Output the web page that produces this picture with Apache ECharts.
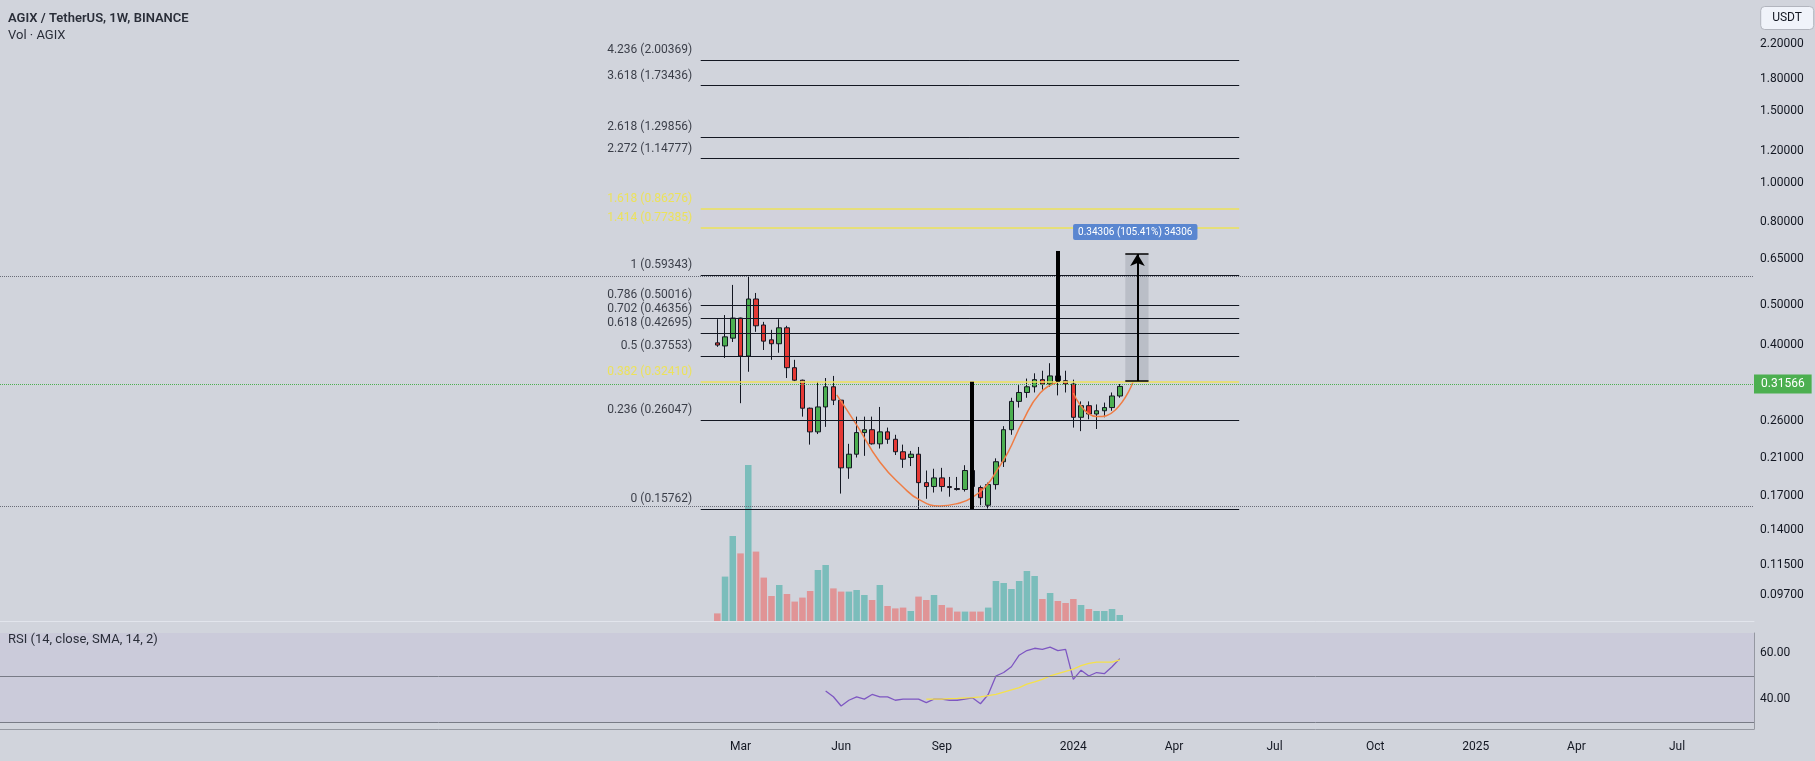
<!DOCTYPE html>
<html><head><meta charset="utf-8">
<script src="https://cdn.jsdelivr.net/npm/echarts@6/dist/echarts.min.js"></script>
<style>html,body{margin:0;padding:0;background:#d1d4dc;}#c{width:1815px;height:761px;}</style>
</head><body><div id="c"></div>
<script>
// ---------- data ----------
const dates = ['2023-02-13','2023-02-20','2023-02-27','2023-03-06','2023-03-13','2023-03-20','2023-03-27','2023-04-03','2023-04-10','2023-04-17','2023-04-24','2023-05-01','2023-05-08','2023-05-15','2023-05-22','2023-05-29','2023-06-05','2023-06-12','2023-06-19','2023-06-26','2023-07-03','2023-07-10','2023-07-17','2023-07-24','2023-07-31','2023-08-07','2023-08-14','2023-08-21','2023-08-28','2023-09-04','2023-09-11','2023-09-18','2023-09-25','2023-10-02','2023-10-09','2023-10-16','2023-10-23','2023-10-30','2023-11-06','2023-11-13','2023-11-20','2023-11-27','2023-12-04','2023-12-11','2023-12-18','2023-12-25','2024-01-01','2024-01-08','2024-01-15','2024-01-22','2024-01-29','2024-02-05','2024-02-12'];
const opens  = [0.404,0.397,0.415,0.465,0.375,0.518,0.447,0.411,0.402,0.440,0.351,0.327,0.279,0.244,0.281,0.315,0.292,0.199,0.215,0.243,0.247,0.228,0.244,0.234,0.218,0.211,0.215,0.183,0.179,0.188,0.179,0.177,0.176,0.196,0.178,0.161,0.181,0.206,0.247,0.290,0.305,0.315,0.328,0.320,0.335,0.326,0.320,0.265,0.283,0.270,0.275,0.280,0.299];
const closes = [0.399,0.418,0.465,0.375,0.518,0.445,0.408,0.402,0.440,0.351,0.327,0.279,0.244,0.281,0.315,0.292,0.199,0.215,0.243,0.247,0.228,0.244,0.234,0.218,0.209,0.215,0.183,0.179,0.188,0.179,0.178,0.176,0.196,0.179,0.168,0.181,0.206,0.247,0.290,0.305,0.315,0.328,0.320,0.335,0.326,0.320,0.265,0.283,0.270,0.275,0.280,0.299,0.31566];
const lows   = [0.395,0.371,0.406,0.287,0.343,0.430,0.388,0.367,0.382,0.331,0.325,0.266,0.227,0.241,0.251,0.284,0.172,0.187,0.211,0.213,0.227,0.222,0.228,0.214,0.199,0.201,0.15762,0.167,0.173,0.174,0.169,0.175,0.174,0.170,0.161,0.158,0.176,0.200,0.240,0.280,0.296,0.305,0.310,0.315,0.300,0.305,0.250,0.245,0.262,0.248,0.265,0.275,0.296];
const highs  = [0.462,0.473,0.561,0.466,0.59343,0.536,0.455,0.435,0.462,0.445,0.367,0.328,0.280,0.324,0.331,0.335,0.293,0.228,0.266,0.266,0.266,0.281,0.250,0.240,0.227,0.219,0.224,0.196,0.198,0.199,0.189,0.189,0.202,0.205,0.180,0.183,0.210,0.252,0.296,0.318,0.330,0.340,0.345,0.360,0.360,0.345,0.328,0.290,0.290,0.285,0.288,0.305,0.320];
const volumes = [38,222,425,338,780,347,217,125,180,135,97,117,150,255,280,163,147,147,155,130,105,180,75,63,67,50,122,105,130,80,67,47,47,47,47,67,200,190,160,200,250,225,110,140,100,90,110,80,60,50,50,60,30];
const rsiValues = [43.5,41,37,39.5,41,40,42,41,41,39.5,40,40,40,38.5,40,40,39.5,39.5,40,40.5,38,42,50,51.5,54,59,61,62,61.5,62.5,61,61.5,48.5,52.5,50,51.5,51,54,57.5];
const rsiSmaValues = [40,40,40,40.2,40.3,40.5,40.6,41,41.5,42,43,44,45,46.5,47.5,48.5,50,51,52,53,54.5,55.5,56,56,56,57];
const priceTicks = [2.2,1.8,1.5,1.2,1.0,0.8,0.65,0.5,0.4,0.26,0.21,0.17,0.14,0.115,0.097];
const rsiTicks = [40,60];
const timeTickDates = ['2023-03-06','2023-06-05','2023-09-04','2024-01-01','2024-04-01','2024-07-01','2024-09-30','2024-12-30','2025-03-31','2025-06-30'];
const timeTickLabels = ['Mar','Jun','Sep','2024','Apr','Jul','Oct','2025','Apr','Jul'];
const fibRatios = ['4.236','3.618','2.618','2.272','1.618','1.414','1','0.786','0.702','0.618','0.5','0.382','0.236','0'];
const fibPrices = [2.00369,1.73436,1.29856,1.14777,0.86276,0.77385,0.59343,0.50016,0.46356,0.42695,0.37553,0.32410,0.26047,0.15762];
const fibYellow = ['1.618','1.414','0.382'];
const fibStart = '2023-01-29', fibEnd = '2024-05-30';
const lastPrice = 0.31566;
const cupDates = ['2023-06-01','2023-06-19','2023-07-10','2023-07-31','2023-08-15','2023-09-02','2023-09-20','2023-10-01','2023-10-15','2023-10-23','2023-11-03','2023-11-16','2023-12-02','2023-12-18'];
const cupPrices = [0.3008,0.2538,0.2057,0.1786,0.1659,0.1604,0.1631,0.1679,0.1807,0.1944,0.2175,0.2582,0.3042,0.3238];
const handleDates = ['2024-01-01','2024-01-22','2024-02-08','2024-02-24'];
const handlePrices = [0.3042,0.2661,0.2763,0.3237];
const pole1 = {date:'2023-10-01', from:0.15762, to:0.3241};
const pole2 = {date:'2023-12-18', from:0.680, to:0.3241};
const rangeBox = {from:'2024-02-17', to:'2024-03-09', mid:'2024-02-28', low:0.32545, high:0.66851, labelDate:'2024-02-26', labelPrice:0.757, text:'0.34306 (105.41%) 34306'};

// ---------- helpers ----------
const FONT = 'Roboto, "Noto Sans", sans-serif';
const DAY = 86400000;
const T = s => Date.parse(s + 'T00:00:00Z');
const pxPerDay = 7.74 / 7;
const xMin = T(dates[0]) - 717.3 / pxPerDay * DAY;
const xMax = xMin + 1754 / pxPerDay * DAY;
const UP = '#4caf50', DOWN = '#e53935';
const VUP = 'rgba(38,166,154,0.5)', VDOWN = 'rgba(239,83,80,0.5)';

const candleData = dates.map((d,i) => [T(d), opens[i], closes[i], lows[i], highs[i]]);
const volData = dates.map((d,i) => ({value:[T(d), volumes[i]], itemStyle:{color: closes[i] >= opens[i] ? VUP : VDOWN}}));
const rsiData = rsiValues.map((v,i) => [T(dates[14+i]), v]);
const smaData = rsiSmaValues.map((v,i) => [T(dates[27+i]), v]);

const markLines = [];
fibRatios.forEach((r,i) => {
  const y = fibYellow.includes(r);
  markLines.push([
    {coord:[T(fibStart), fibPrices[i]], lineStyle:{color: y ? '#ece25a' : '#131722', width: y ? 1.5 : 1, type:'solid'}},
    {coord:[T(fibEnd), fibPrices[i]]}
  ]);
});
const fibLabelData = fibRatios.map((r,i) => {
  const y = fibYellow.includes(r);
  return {value:[T(fibStart), fibPrices[i]], label:{color: y ? '#f3e53c' : '#131722'}, name: r + ' (' + fibPrices[i].toFixed(5) + ')'};
});
markLines.push({yAxis:fibPrices[6], lineStyle:{type:'dotted', color:'#6a6d78', width:1}});
markLines.push({yAxis:fibPrices[13], lineStyle:{type:'dotted', color:'#6a6d78', width:1}});
markLines.push({yAxis:lastPrice, lineStyle:{type:'dotted', color:'#4caf50', width:1},
  label:{show:true, position:'end', distance:0, formatter: lastPrice.toFixed(5), backgroundColor:'#4caf50', color:'#fff', padding:[4,7,3,7], fontSize:12, fontFamily:FONT}});
[pole1, pole2].forEach(p => markLines.push([
  {coord:[T(p.date), p.from], lineStyle:{color:'#000', width:4, type:'solid'}},
  {coord:[T(p.date), p.to]}
]));
markLines.push([{coord:[T(rangeBox.from), rangeBox.high], lineStyle:{color:'#000', width:1.5, type:'solid'}}, {coord:[T(rangeBox.to), rangeBox.high]}]);
markLines.push([{coord:[T(rangeBox.from), rangeBox.low], lineStyle:{color:'#000', width:1.5, type:'solid'}}, {coord:[T(rangeBox.to), rangeBox.low]}]);
markLines.push([{coord:[T(rangeBox.mid), rangeBox.low], lineStyle:{color:'#000', width:2, type:'solid'}}, {coord:[T(rangeBox.mid), rangeBox.high], symbol:'arrow', symbolSize:[11,12]}]);

const timeLabelMap = {};
timeTickDates.forEach((d,i) => timeLabelMap[T(d)] = timeTickLabels[i]);

const grids = [
  {left:0, right:61, top:0, height:633},
  {left:0, right:61, top:465, bottom:140},
  {left:0, right:61, top:633, height:96}
];
const xAxisBase = {type:'value', min:xMin, max:xMax, splitLine:{show:false}, axisTick:{show:false}};

const option = {
  backgroundColor:'#d1d4dc',
  animation:false,
  textStyle:{fontFamily:FONT},
  title:[
    {text:'AGIX / TetherUS, 1W, BINANCE', left:8, top:12, padding:0, textStyle:{fontSize:13, fontWeight:600, color:'#2a2e39', fontFamily:FONT}},
    {text:'Vol · AGIX', left:8, top:29, padding:0, textStyle:{fontSize:13, fontWeight:'normal', color:'#2a2e39', fontFamily:FONT}},
    {text:'RSI (14, close, SMA, 14, 2)', left:8, top:633, padding:0, textStyle:{fontSize:13, fontWeight:'normal', color:'#2a2e39', fontFamily:FONT}},
    {text:'USDT', right:1, top:6, padding:[6,12], backgroundColor:'#f0f3fa', borderColor:'#b2b5be', borderWidth:1, borderRadius:4, textStyle:{fontSize:12, fontWeight:'normal', color:'#131722', fontFamily:FONT}}
  ],
  grid: grids,
  xAxis:[
    Object.assign({gridIndex:0, show:false}, xAxisBase),
    Object.assign({gridIndex:1, axisLine:{show:true, lineStyle:{color:'rgba(240,243,250,0.55)'}}, axisLabel:{show:false}}, xAxisBase),
    Object.assign({gridIndex:2, axisLine:{show:true, lineStyle:{color:'#9598a1'}},
      axisLabel:{customValues: timeTickDates.map(T), formatter: v => timeLabelMap[v] || '', color:'#131722', fontSize:12, fontFamily:FONT, margin:12}}, xAxisBase)
  ],
  yAxis:[
    {type:'log', gridIndex:0, position:'right', min:0.07807, max:2.8186, logBase:10,
     axisLine:{show:false}, axisTick:{show:false}, splitLine:{show:false},
     axisLabel:{customValues: priceTicks, formatter: v => Number(v).toFixed(5), color:'#131722', fontSize:12, fontFamily:FONT, margin:6, align:'left'}},
    {type:'value', gridIndex:1, min:0, max:780, show:false, splitLine:{show:false}},
    {type:'value', gridIndex:2, position:'right', min:27.06, max:68.6,
     axisLine:{show:true, lineStyle:{color:'#9598a1'}}, axisTick:{show:false}, splitLine:{show:false},
     axisLabel:{customValues: rsiTicks, formatter: v => Number(v).toFixed(2), color:'#131722', fontSize:12, fontFamily:FONT, margin:6, align:'left'}}
  ],
  series:[
    {type:'bar', xAxisIndex:1, yAxisIndex:1, data:volData, barWidth:6.5, silent:true},
    {type:'candlestick', xAxisIndex:0, yAxisIndex:0, data:candleData, barWidth:5, silent:true,
     itemStyle:{color:UP, color0:DOWN, borderColor:'#131722', borderColor0:'#131722', borderWidth:1},
     markLine:{silent:true, symbol:['none','none'], label:{show:false}, data:markLines},
     markArea:{silent:true, data:[
       [{coord:[T(rangeBox.from), rangeBox.low], itemStyle:{color:'rgba(120,123,134,0.25)'}}, {coord:[T(rangeBox.to), rangeBox.high]}],
       [{coord:[T(fibStart), fibPrices[5]], itemStyle:{color:'rgba(225,190,231,0.08)'}}, {coord:[T(fibEnd), fibPrices[4]]}]
     ]},
     markPoint:{silent:true, data:[{coord:[T(rangeBox.labelDate), rangeBox.labelPrice], symbol:'rect', symbolSize:[1,1], itemStyle:{color:'rgba(0,0,0,0)'},
       label:{show:true, position:'inside', formatter: rangeBox.text, color:'#fff', fontSize:10, fontFamily:FONT, backgroundColor:'#5a86d0', padding:[3,5,3,5], borderRadius:2}}]}
    },
    {type:'scatter', xAxisIndex:0, yAxisIndex:0, data:fibLabelData, symbol:'circle', symbolSize:1, itemStyle:{color:'rgba(0,0,0,0)'}, silent:true,
     label:{show:true, position:'left', distance:8, offset:[0,-10], formatter: p => p.name, fontSize:12, fontFamily:FONT}},
    {type:'line', xAxisIndex:0, yAxisIndex:0, data:cupDates.map((d,i)=>[T(d), cupPrices[i]]), smooth:0.5, symbol:'none', lineStyle:{color:'#ef7d45', width:1.5}, silent:true, z:3},
    {type:'line', xAxisIndex:0, yAxisIndex:0, data:handleDates.map((d,i)=>[T(d), handlePrices[i]]), smooth:0.5, symbol:'none', lineStyle:{color:'#ef7d45', width:1.5}, silent:true, z:3},
    {type:'line', xAxisIndex:2, yAxisIndex:2, data:rsiData, symbol:'none', lineStyle:{color:'#7e57c2', width:1.3}, silent:true,
     markArea:{silent:true, data:[[{yAxis:30, itemStyle:{color:'rgba(126,87,194,0.07)'}}, {yAxis:70}]]},
     markLine:{silent:true, symbol:['none','none'], label:{show:false}, data:[
       {yAxis:70, lineStyle:{color:'#787b86', type:'solid', width:1}},
       {yAxis:50, lineStyle:{color:'#787b86', type:'solid', width:1}},
       {yAxis:30, lineStyle:{color:'#787b86', type:'solid', width:1}}]}},
    {type:'line', xAxisIndex:2, yAxisIndex:2, data:smaData, symbol:'none', lineStyle:{color:'#f5e14b', width:1.3}, silent:true}
  ]
};
const chart = echarts.init(document.getElementById('c'));
chart.setOption(option);
</script>
</body></html>
